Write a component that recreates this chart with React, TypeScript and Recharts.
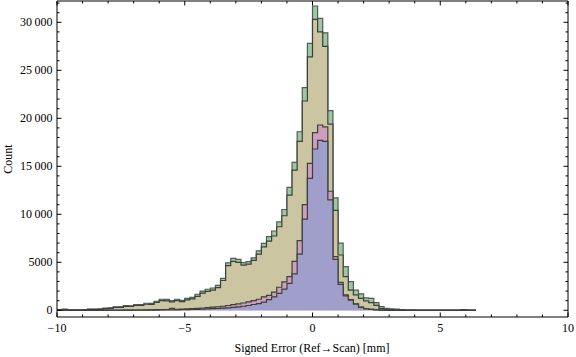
import { ComposedChart, Area, XAxis, YAxis } from 'recharts';

// histogram bins: width 0.2, left edges from -10.0 to 6.2
const binStart = -10;
const binWidth = 0.2;

const greenCounts = [
  60, 120, 50, 50, 50, 60, 130, 130, 140, 240,
  250, 370, 360, 480, 470, 580, 600, 730, 720, 940,
  1150, 1130, 1000, 1150, 1040, 1250, 1350, 1670, 2000, 2190,
  2320, 2600, 3330, 4930, 5400, 5300, 4960, 5060, 5450, 6180,
  6980, 7670, 8260, 9200, 10500, 12800, 15400, 18600, 23200, 27800,
  31700, 30400, 28900, 20800, 11700, 7000, 4540, 2980, 2100, 1700,
  1300, 1250, 800, 380, 200, 150, 120, 60, 30, 15,
  10, 10, 10, 10, 10, 10, 10, 10, 10, 70,
  20, 10,
];

const tanCounts = [
  30, 60, 30, 30, 30, 40, 90, 100, 100, 180,
  200, 300, 300, 400, 400, 500, 520, 630, 620, 820,
  1000, 980, 880, 1000, 900, 1080, 1180, 1450, 1780, 1980,
  2100, 2360, 3100, 4650, 5100, 5000, 4700, 4800, 5200, 5850,
  6600, 7200, 7740, 8700, 9850, 12000, 14600, 17600, 21800, 26400,
  30300, 29000, 27500, 19400, 10400, 5760, 3500, 2100, 1600, 1250,
  970, 800, 520, 170, 50, 40, 30, 20, 10, 10,
  5, 5, 5, 5, 5, 5, 5, 5, 5, 40,
  10, 5,
];

const pinkCounts = [
  0, 0, 0, 0, 0, 0, 5, 5, 5, 10,
  10, 15, 15, 20, 20, 30, 30, 40, 45, 60,
  70, 80, 200, 100, 120, 140, 170, 200, 240, 280,
  320, 370, 420, 500, 580, 660, 760, 880, 1000, 1150,
  1400, 1560, 1900, 2400, 2950, 3500, 5100, 7250, 11000, 15300,
  18500, 19300, 19100, 12400, 5600, 2900, 1600, 1100, 680, 340,
  160, 110, 60, 30, 10, 5, 0, 0, 0, 0,
  0, 0, 0, 0, 0, 0, 0, 0, 0, 0,
  0, 0,
];

const blueCounts = [
  0, 0, 0, 0, 0, 0, 0, 0, 0, 0,
  5, 5, 5, 10, 10, 10, 15, 15, 20, 20,
  30, 30, 50, 50, 60, 70, 80, 100, 120, 150,
  170, 200, 220, 260, 300, 360, 420, 500, 600, 700,
  850, 1100, 1400, 1770, 2200, 2800, 3800, 5860, 9500, 13750,
  16800, 17700, 17600, 11500, 5300, 2700, 1500, 1050, 640, 310,
  140, 100, 50, 20, 5, 0, 0, 0, 0, 0,
  0, 0, 0, 0, 0, 0, 0, 0, 0, 0,
  0, 0,
];

const xMajorTicks = [-10, -5, 0, 5, 10];
const yMajorTicks = [0, 5000, 10000, 15000, 20000, 25000, 30000];
const xTicks = Array.from({ length: 21 }, (_, i) => i - 10);
const yTicks = Array.from({ length: 33 }, (_, i) => i * 1000);

const rows = greenCounts.map((g, i) => ({
  x: +(binStart + i * binWidth).toFixed(1),
  green: g,
  tan: tanCounts[i],
  pink: pinkCounts[i],
  blue: blueCounts[i],
}));
// closing edge for the last step
const last = rows[rows.length - 1];
rows.push({ ...last, x: +(last.x + binWidth).toFixed(1) });

const font = '"Liberation Serif", "Times New Roman", serif';
const edge = '#3d3f3d';

const fmtX = (v: number) => (v < 0 ? `\u2212${-v}` : `${v}`);
const fmtY = (v: number) =>
  v >= 10000 ? `${Math.floor(v / 1000)}\u2009${String(v % 1000).padStart(3, '0')}` : `${v}`;

function BottomTick(props: any) {
  const { x, y, payload } = props;
  const major = xMajorTicks.includes(payload.value);
  return (
    <g>
      <line x1={x} x2={x} y1={y} y2={y - (major ? 4.5 : 2.5)} stroke="#000" />
      {major && (
        <text x={x} y={y + 15} textAnchor="middle" fontFamily={font} fontSize={12} fill="#000">
          {fmtX(payload.value)}
        </text>
      )}
    </g>
  );
}

function TopTick(props: any) {
  const { x, y, payload } = props;
  const major = xMajorTicks.includes(payload.value);
  return <line x1={x} x2={x} y1={y} y2={y + (major ? 4.5 : 2.5)} stroke="#000" />;
}

function LeftTick(props: any) {
  const { x, y, payload } = props;
  const major = yMajorTicks.includes(payload.value);
  return (
    <g>
      <line x1={x} x2={x + (major ? 4.5 : 2.5)} y1={y} y2={y} stroke="#000" />
      {major && (
        <text x={x - 4.5} y={y + 4} textAnchor="end" fontFamily={font} fontSize={12} fill="#000">
          {fmtY(payload.value)}
        </text>
      )}
    </g>
  );
}

function RightTick(props: any) {
  const { x, y, payload } = props;
  const major = yMajorTicks.includes(payload.value);
  return <line x1={x} x2={x - (major ? 4.5 : 2.5)} y1={y} y2={y} stroke="#000" />;
}

export default function App() {
  return (
    <div style={{ position: 'absolute', left: 0, top: 0, width: 576, height: 357, background: '#fff' }}>
      <ComposedChart width={576} height={357} data={rows} margin={{ top: 0, right: 0, bottom: 0, left: 0 }}>
        <XAxis
          xAxisId="b"
          dataKey="x"
          type="number"
          domain={[-10, 10]}
          allowDataOverflow
          ticks={xTicks}
          interval={0}
          height={40}
          tickSize={0}
          tickMargin={0}
          tickLine={false}
          axisLine={{ stroke: '#000' }}
          tick={BottomTick}
        />
        <XAxis
          xAxisId="t"
          orientation="top"
          dataKey="x"
          type="number"
          domain={[-10, 10]}
          allowDataOverflow
          ticks={xTicks}
          interval={0}
          height={1}
          tickSize={0}
          tickMargin={0}
          tickLine={false}
          axisLine={{ stroke: '#000' }}
          tick={TopTick}
        />
        <YAxis
          yAxisId="l"
          type="number"
          domain={[-700, 32220]}
          allowDataOverflow
          ticks={yTicks}
          interval={0}
          width={57}
          tickSize={0}
          tickMargin={0}
          tickLine={false}
          axisLine={{ stroke: '#000' }}
          tick={LeftTick}
        />
        <YAxis
          yAxisId="r"
          orientation="right"
          type="number"
          domain={[-700, 32220]}
          allowDataOverflow
          ticks={yTicks}
          interval={0}
          width={8}
          tickSize={0}
          tickMargin={0}
          tickLine={false}
          axisLine={{ stroke: '#000' }}
          tick={RightTick}
        />
        <Area xAxisId="b" yAxisId="l" type="stepAfter" dataKey="green" baseValue={0} fill="#9ec8a3" fillOpacity={1} stroke="#4f5f52" strokeWidth={1.2} dot={false} activeDot={false} isAnimationActive={false} />
        <Area xAxisId="b" yAxisId="l" type="stepAfter" dataKey="tan" baseValue={0} fill="#cbc6a1" fillOpacity={1} stroke={edge} strokeWidth={1.2} dot={false} activeDot={false} isAnimationActive={false} />
        <Area xAxisId="b" yAxisId="l" type="stepAfter" dataKey="pink" baseValue={0} fill="#cb9fbd" fillOpacity={1} stroke={edge} strokeWidth={1.2} dot={false} activeDot={false} isAnimationActive={false} />
        <Area xAxisId="b" yAxisId="l" type="stepAfter" dataKey="blue" baseValue={0} fill="#a09fcc" fillOpacity={1} stroke={edge} strokeWidth={1.2} dot={false} activeDot={false} isAnimationActive={false} />
      </ComposedChart>
      <div
        style={{
          position: 'absolute',
          left: 8,
          top: 159,
          transform: 'translate(-50%, -50%) rotate(-90deg)',
          fontFamily: font,
          fontSize: 12,
          lineHeight: '12px',
          whiteSpace: 'nowrap',
        }}
      >
        Count
      </div>
      <div
        style={{
          position: 'absolute',
          left: 312,
          top: 342,
          transform: 'translateX(-50%)',
          fontFamily: font,
          fontSize: 12,
          lineHeight: '12px',
          whiteSpace: 'nowrap',
        }}
      >
        Signed Error (Ref{'\u2192'}Scan) [mm]
      </div>
    </div>
  );
}
